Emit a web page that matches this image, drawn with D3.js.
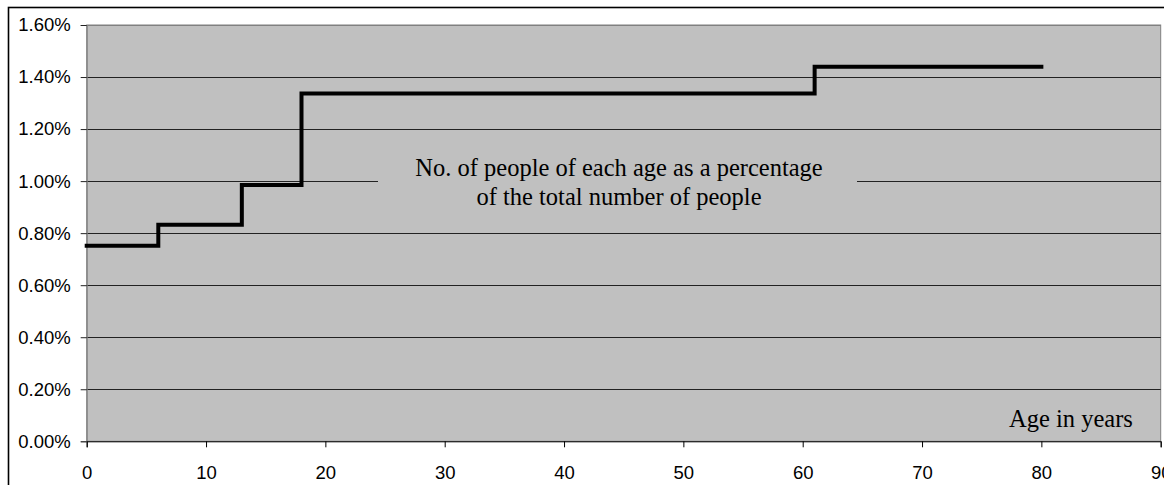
<!DOCTYPE html>
<html>
<head>
<meta charset="utf-8">
<script src="https://cdn.jsdelivr.net/npm/d3@7"></script>
<style>
  body { margin: 0; background: #fff; }
  svg { display: block; }
</style>
</head>
<body>
<div id="chart"></div>
<script>
// Step data: age where the value starts, percentage of people
const ages = [0, 6, 13, 18, 61, 80];
const shares = [0.752, 0.832, 0.985, 1.337, 1.44, 1.44];
const yTicks = [0, 0.2, 0.4, 0.6, 0.8, 1.0, 1.2, 1.4, 1.6];
const xTicks = [0, 10, 20, 30, 40, 50, 60, 70, 80, 90];
const labelLines = ['No. of people of each age as a percentage', 'of the total number of people'];
const axisTitle = 'Age in years';

const width = 1164;
const height = 485;
const plot = { left: 86.7, right: 1160.7, top: 25, bottom: 441.3 };

const svg = d3.select('#chart')
  .append('svg')
  .attr('width', width)
  .attr('height', height);

// outer chart border (right and bottom fall off the picture)
svg.append('rect')
  .attr('x', 8.5).attr('y', 7.5)
  .attr('width', 1200).attr('height', 600)
  .attr('fill', '#fff')
  .attr('stroke', '#000')
  .attr('stroke-width', 1.6);

const x = d3.scaleLinear().domain([0, 90]).range([plot.left, plot.right]);
const y = d3.scaleLinear().domain([0, 1.6]).range([plot.bottom, plot.top]);

// plot area
svg.append('rect')
  .attr('x', plot.left).attr('y', plot.top)
  .attr('width', plot.right - plot.left)
  .attr('height', plot.bottom - plot.top)
  .attr('fill', '#c0c0c0')
  .attr('stroke', '#808080')
  .attr('stroke-width', 1);

// gridlines
svg.append('g')
  .selectAll('line')
  .data(yTicks.slice(1))
  .enter()
  .append('line')
  .attr('x1', plot.left).attr('x2', plot.right)
  .attr('y1', d => Math.round(y(d)) + 0.5)
  .attr('y2', d => Math.round(y(d)) + 0.5)
  .attr('stroke', d => d === 1.6 ? '#808080' : '#222')
  .attr('stroke-width', 1);

// y axis
const yAxis = svg.append('g')
  .attr('transform', `translate(${plot.left},0)`)
  .call(d3.axisLeft(y).tickValues(yTicks).tickFormat(d => d.toFixed(2) + '%').tickSize(6).tickPadding(10));
yAxis.select('.domain').attr('stroke', '#808080');
yAxis.selectAll('.tick line').attr('stroke', '#222');
yAxis.selectAll('text')
  .attr('font-family', 'Liberation Sans, Arial, sans-serif')
  .attr('font-size', 18.5)
  .attr('fill', '#000');

// x axis
const xAxis = svg.append('g')
  .attr('transform', `translate(0,${plot.bottom})`)
  .call(d3.axisBottom(x).tickValues(xTicks).tickSize(6).tickPadding(19));
xAxis.select('.domain').attr('stroke', '#000');
xAxis.selectAll('.tick line').attr('stroke', '#000');
xAxis.selectAll('text')
  .attr('font-family', 'Liberation Sans, Arial, sans-serif')
  .attr('font-size', 18.5)
  .attr('fill', '#000');

// step line
const pts = ages.map((a, i) => [a, shares[i]]);
const line = d3.line()
  .x(d => x(d[0]))
  .y(d => y(d[1]))
  .curve(d3.curveStepAfter);

svg.append('path')
  .datum(pts)
  .attr('d', line)
  .attr('fill', 'none')
  .attr('stroke', '#000')
  .attr('stroke-width', 4)
  .attr('stroke-linejoin', 'miter')
  .attr('stroke-linecap', 'square');

// series label with its background box
svg.append('rect')
  .attr('x', 378).attr('y', 150)
  .attr('width', 479).attr('height', 62)
  .attr('fill', '#c0c0c0');

svg.append('g')
  .selectAll('text')
  .data(labelLines)
  .enter()
  .append('text')
  .attr('x', 619)
  .attr('y', (d, i) => 176 + i * 29)
  .attr('text-anchor', 'middle')
  .attr('font-family', 'Liberation Serif, Times New Roman, serif')
  .attr('font-size', 24.5)
  .attr('fill', '#000')
  .text(d => d);

svg.append('text')
  .attr('x', 1071)
  .attr('y', 427)
  .attr('text-anchor', 'middle')
  .attr('font-family', 'Liberation Serif, Times New Roman, serif')
  .attr('font-size', 24.5)
  .attr('fill', '#000')
  .text(axisTitle);
</script>
</body>
</html>
